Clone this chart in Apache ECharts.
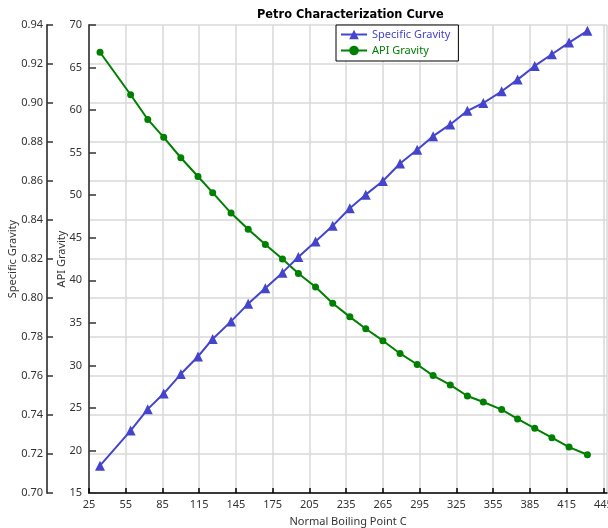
<!DOCTYPE html>
<html>
<head>
<meta charset="utf-8">
<script src="https://cdn.jsdelivr.net/npm/echarts@6/dist/echarts.min.js"></script>
<style>
  html, body { margin: 0; padding: 0; background: #fff; }
  #chart { width: 608px; height: 528px; }
</style>
</head>
<body>
<div id="chart"></div>
<script>
// Normal boiling point of each pseudo-component (°C)
const boilingPoints = [34, 59, 73, 86, 100, 114, 126, 141, 155, 169, 183, 196, 210, 224, 238,
  251, 265, 279, 293, 306, 320, 334, 347, 362, 375, 389, 403, 417, 432];

// Specific gravity per component
const specificGravity = [0.714, 0.732, 0.743, 0.751, 0.761, 0.770, 0.779, 0.788, 0.797, 0.805,
  0.813, 0.821, 0.829, 0.837, 0.846, 0.853, 0.860, 0.869, 0.876, 0.883, 0.889, 0.896, 0.900,
  0.906, 0.912, 0.919, 0.925, 0.931, 0.937];

// API gravity per component
const apiGravity = [66.8, 61.8, 58.9, 56.8, 54.4, 52.2, 50.3, 47.9, 46.0, 44.2, 42.5, 40.8,
  39.2, 37.3, 35.7, 34.3, 32.9, 31.4, 30.1, 28.8, 27.7, 26.4, 25.7, 24.8, 23.7, 22.6, 21.5,
  20.4, 19.5];

const FONT = 'Noto Sans';
const LABEL_COLOR = '#333';

const sgPairs = boilingPoints.map((x, i) => [x, specificGravity[i]]);
const apiPairs = boilingPoints.map((x, i) => [x, apiGravity[i]]);

const chart = echarts.init(document.getElementById('chart'), null, { renderer: 'canvas' });

chart.setOption({
  animation: false,
  backgroundColor: '#fff',
  title: {
    text: 'Petro Characterization Curve',
    left: 257,
    top: 10,
    padding: 0,
    textStyle: { fontFamily: 'DejaVu Sans', fontWeight: 'bold', fontSize: 11.4, color: '#000' }
  },
  legend: {
    orient: 'vertical',
    left: 336,
    top: 25,
    padding: [4, 8, 5, 4],
    itemGap: 5,
    itemWidth: 26,
    itemHeight: 12,
    backgroundColor: '#fff',
    borderColor: '#000',
    borderWidth: 1,
    borderRadius: 0,
    textStyle: { fontFamily: FONT, fontSize: 11 },
    data: [
      { name: 'Specific Gravity', textStyle: { color: '#4444cc' } },
      { name: 'API Gravity', textStyle: { color: '#008000' } }
    ]
  },
  grid: { left: 89, right: 1, top: 25, bottom: 35, containLabel: false, outerBoundsMode: 'none' },
  xAxis: {
    type: 'value',
    min: 25,
    max: 448,
    interval: 30,
    name: 'Normal Boiling Point C',
    nameLocation: 'middle',
    nameGap: 23,
    nameTextStyle: { fontFamily: FONT, fontSize: 11, color: LABEL_COLOR },
    axisLine: { show: true, lineStyle: { color: '#000', width: 1.5 } },
    axisTick: { show: true, inside: true, length: 5, lineStyle: { color: '#000', width: 1.5 } },
    axisLabel: { fontFamily: FONT, fontSize: 11, color: LABEL_COLOR, margin: 6, showMaxLabel: false },
    splitLine: { show: true, lineStyle: { color: '#d9d9d9', width: 1.5 } }
  },
  yAxis: [
    {
      type: 'value',
      position: 'left',
      offset: 42,
      min: 0.70,
      max: 0.94,
      interval: 0.02,
      name: 'Specific Gravity',
      nameLocation: 'middle',
      nameGap: 29,
      nameMoveOverlap: false,
      nameTextStyle: { fontFamily: FONT, fontSize: 11, color: LABEL_COLOR },
      axisLine: { show: true, lineStyle: { color: '#555', width: 2 } },
      axisTick: { show: true, inside: true, length: 6, lineStyle: { color: '#333', width: 1.5 } },
      axisLabel: {
        fontFamily: FONT, fontSize: 11, color: LABEL_COLOR, margin: 4,
        formatter: v => v.toFixed(2)
      },
      splitLine: { show: true, lineStyle: { color: '#d9d9d9', width: 1.5 } }
    },
    {
      type: 'value',
      position: 'left',
      offset: 0,
      min: 15,
      max: 70,
      interval: 5,
      name: 'API Gravity',
      nameLocation: 'middle',
      nameGap: 22,
      nameMoveOverlap: false,
      nameTextStyle: { fontFamily: FONT, fontSize: 11, color: LABEL_COLOR },
      axisLine: { show: true, lineStyle: { color: '#555', width: 2 } },
      axisTick: { show: true, inside: true, length: 7, lineStyle: { color: '#333', width: 1.5 } },
      axisLabel: { fontFamily: FONT, fontSize: 11, color: LABEL_COLOR, margin: 7 },
      splitLine: { show: false }
    }
  ],
  series: [
    {
      name: 'Specific Gravity',
      type: 'line',
      yAxisIndex: 0,
      data: sgPairs,
      color: '#4444cc',
      symbol: 'triangle',
      symbolSize: 10,
      showAllSymbol: true,
      lineStyle: { width: 2, color: '#4444cc' },
      itemStyle: { color: '#4444cc' },
      z: 3
    },
    {
      name: 'API Gravity',
      type: 'line',
      yAxisIndex: 1,
      data: apiPairs,
      color: '#008000',
      symbol: 'circle',
      symbolSize: 7,
      showAllSymbol: true,
      lineStyle: { width: 2, color: '#008000' },
      itemStyle: { color: '#008000' },
      z: 2
    }
  ]
});
</script>
</body>
</html>
